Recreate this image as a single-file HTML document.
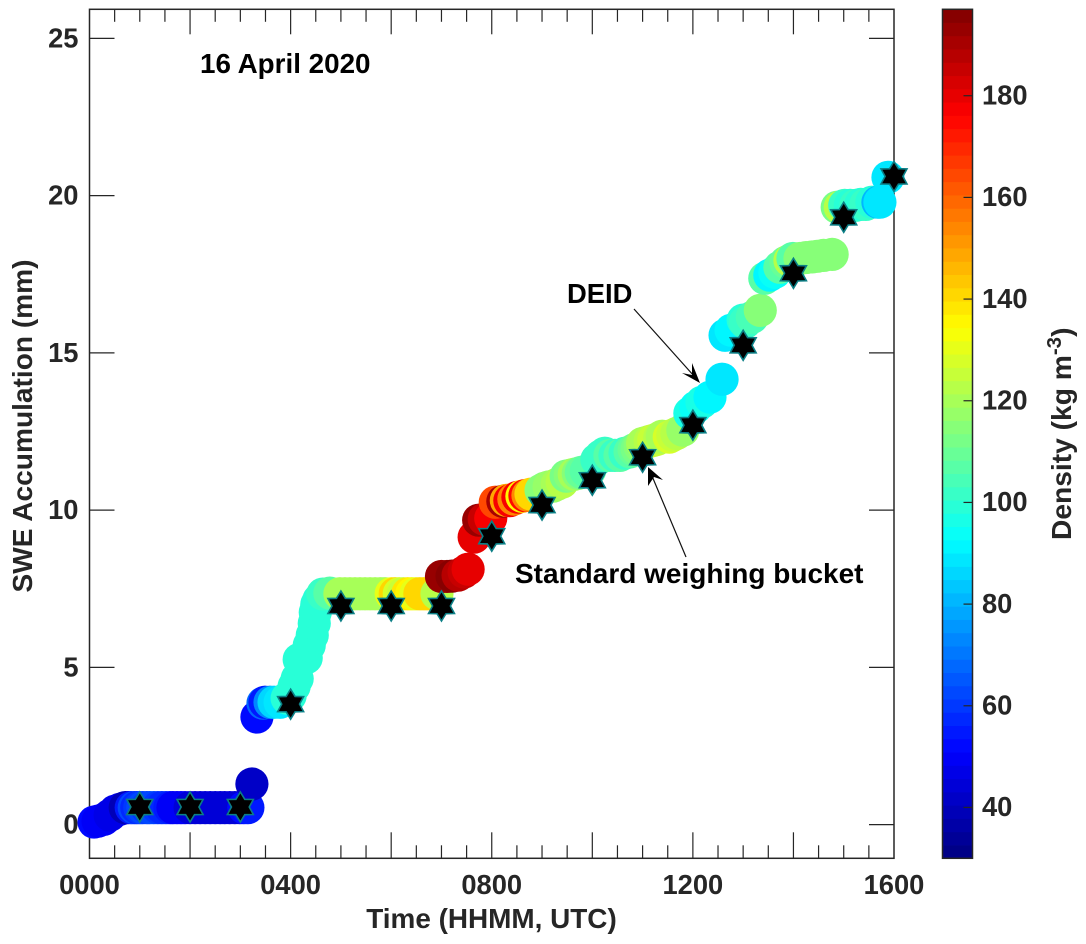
<!DOCTYPE html>
<html lang="en">
<head>
<meta charset="utf-8">
<title>SWE Accumulation, 16 April 2020</title>
<style>
html,body{margin:0;padding:0;background:#fff;width:1086px;height:944px;overflow:hidden}
svg{display:block}
text{font-family:"Liberation Sans",Arial,sans-serif;font-weight:bold}
</style>
</head>
<body>
<svg id="chart" xmlns="http://www.w3.org/2000/svg" width="1086" height="944" viewBox="0 0 1086 944">
  <g id="axes"></g>
  <g id="marks"></g>
  <g id="cbar"></g>
  <text x="200" y="73" font-size="27.8" fill="#000">16 April 2020</text>
  <text x="491.5" y="928" font-size="27.9" fill="#262626" text-anchor="middle">Time (HHMM, UTC)</text>
  <text transform="translate(32,426) rotate(-90)" font-size="28.1" fill="#262626" text-anchor="middle">SWE Accumulation (mm)</text>
  <text transform="translate(1071,540) rotate(-90)" font-size="28.2" fill="#262626">Density (kg m<tspan dy="-10" font-size="20.5">-3</tspan><tspan dy="10">)</tspan></text>
  <g>
    <text x="567" y="303" font-size="27.4" fill="#000">DEID</text>
    <line x1="634" y1="309" x2="694" y2="376" stroke="#111" stroke-width="1.2"/>
    <polygon points="700,383 682,373 692,375 692,363" fill="#000"/>
  </g>
  <g>
    <text x="515" y="583" font-size="28" fill="#000">Standard weighing bucket</text>
    <line x1="686" y1="557" x2="652" y2="476" stroke="#111" stroke-width="1.2"/>
    <polygon points="648,467 663,480 654,477 648,486" fill="#000"/>
  </g>
</svg>
<script>
// DEID series: time (hours UTC), SWE accumulation (mm), density (kg m-3)
var deidTime = [
  0.09,0.17,0.29,0.41,0.51,0.61,0.71,0.77,0.83,0.89,
  0.94,1.00,1.06,1.14,1.20,1.28,1.36,1.44,1.52,1.60,
  1.66,1.74,1.82,1.90,2.00,2.10,2.20,2.30,2.40,2.50,
  2.60,2.69,2.79,2.89,2.99,3.07,3.15,3.23,3.33,3.45,
  3.49,3.59,3.67,3.79,3.93,3.99,4.07,4.13,4.17,4.25,
  4.31,4.37,4.43,4.47,4.49,4.52,4.56,4.64,4.78,4.98,
  5.08,5.18,5.28,5.38,5.48,5.58,5.68,5.78,5.88,6.00,
  6.08,6.16,6.24,6.33,6.41,6.49,6.57,6.65,6.73,6.81,
  6.91,7.00,7.11,7.21,7.33,7.45,7.53,7.65,7.74,7.85,
  7.98,8.07,8.22,8.29,8.36,8.44,8.52,8.60,8.66,8.72,
  8.78,8.98,9.06,9.14,9.22,9.30,9.40,9.48,9.56,9.64,
  9.72,9.78,9.88,9.95,10.09,10.17,10.25,10.35,10.45,10.55,
  10.65,10.75,10.83,10.89,10.95,11.00,11.07,11.15,11.22,11.29,
  11.34,11.39,11.53,11.60,11.68,11.80,11.94,12.06,12.18,12.34,
  12.58,12.64,12.76,12.88,13.00,13.04,13.18,13.34,13.43,13.53,
  13.63,13.73,13.85,13.93,13.99,14.13,14.25,14.37,14.47,14.60,
  14.77,14.87,14.93,15.02,15.13,15.24,15.34,15.44,15.56,15.68,
  15.72,15.88];
var deidSwe = [
  0.08,0.11,0.17,0.30,0.43,0.49,0.54,0.54,0.54,0.54,
  0.54,0.54,0.54,0.54,0.54,0.54,0.54,0.54,0.54,0.54,
  0.54,0.54,0.54,0.54,0.54,0.54,0.54,0.54,0.54,0.54,
  0.54,0.54,0.54,0.54,0.54,0.54,0.54,1.29,3.42,3.86,
  3.89,3.89,3.89,3.89,4.02,4.10,4.40,4.64,5.25,5.30,
  5.30,5.70,6.02,6.40,6.75,7.00,7.14,7.33,7.36,7.34,
  7.34,7.34,7.34,7.34,7.34,7.34,7.34,7.34,7.34,7.34,
  7.34,7.34,7.34,7.34,7.34,7.34,7.34,7.34,7.34,7.34,
  7.34,7.89,7.89,7.90,7.93,8.03,8.12,9.14,9.68,9.71,
  9.74,10.25,10.28,10.31,10.30,10.35,10.41,10.44,10.46,10.47,
  10.51,10.63,10.70,10.74,10.76,10.82,10.89,11.08,11.11,11.14,
  11.17,11.20,11.24,11.27,11.60,11.72,11.81,11.74,11.74,11.74,
  11.81,11.85,11.92,11.95,12.03,12.12,12.15,12.19,12.22,12.25,
  12.30,12.35,12.32,12.38,12.44,12.54,13.08,13.27,13.43,13.59,
  14.16,15.56,15.72,15.80,16.04,15.97,16.13,16.35,17.37,17.47,
  17.56,17.72,17.88,17.94,18.00,18.00,18.03,18.05,18.07,18.10,
  18.13,19.63,19.63,19.69,19.69,19.69,19.72,19.72,19.79,19.79,
  19.79,20.58];
var deidDensity = [
  52,50,50,48,48,46,38,38,56,62,
  58,60,62,60,62,62,60,58,58,55,
  50,50,50,50,44,44,44,44,44,44,
  44,44,44,44,44,52,54,43,52,68,
  55,72,85,90,100,100,100,100,100,100,
  100,100,100,100,100,100,100,102,107,120,
  120,120,120,120,120,120,120,120,120,130,
  140,128,126,138,136,131,142,142,141,140,
  123,194,192,196,188,186,181,180,192,186,
  178,165,190,150,178,155,178,135,175,155,
  140,115,116,118,118,120,122,113,116,120,
  116,110,108,106,103,103,103,108,103,107,
  102,106,110,113,116,120,120,122,124,126,
  122,120,128,125,122,118,96,94,97,92,
  90,90,92,92,100,102,105,115,108,92,
  94,108,110,122,106,115,115,115,115,115,
  115,113,122,103,100,101,100,103,99,82,
  90,90];

// Standard weighing bucket series
var bucketTime = [1,2,3,4,5,6,7,8,9,10,11,12,13,14,15,16];
var bucketSwe = [0.56,0.56,0.56,3.83,6.95,6.95,6.95,9.17,10.16,10.95,11.68,12.70,15.24,17.53,19.31,20.61];

// Tick labels
var yTickValues = [0,5,10,15,20,25];
var xMinorTickHours = [0.5,1,1.5,2.5,3,3.5,4.5,5,5.5,6.5,7,7.5,8.5,9,9.5,10.5,11,11.5,12.5,13,13.5,14.5,15,15.5];
var xMajorTickHours = [2,4,6,8,10,12,14];
var xLabelHours = [0,4,8,12,16];
var xLabelText = ["0000","0400","0800","1200","1600"];
var cbarTickValues = [40,60,80,100,120,140,160,180];

var NS = "http://www.w3.org/2000/svg";
var plotL = 89.5, plotR = 894, plotT = 9.3, plotB = 858.3;
var cbL = 942.5, cbR = 972.5, cbMin = 30, cbMax = 197;
var inkColor = "#262626";

function xScale(h){ return plotL + (h / 16) * (plotR - plotL); }
function yScale(v){ return 824.6 - v * 31.45; }
function cbScale(d){ return plotB - (d - cbMin) / (cbMax - cbMin) * (plotB - plotT); }

function jet(t){
  function c(v){ return Math.round(255 * Math.max(0, Math.min(1, v))); }
  var r = Math.min(4 * t - 1.5, -4 * t + 4.5);
  var g = Math.min(4 * t - 0.5, -4 * t + 3.5);
  var b = Math.min(4 * t + 0.5, -4 * t + 2.5);
  return "rgb(" + c(r) + "," + c(g) + "," + c(b) + ")";
}
function densityColor(d){
  var k = Math.floor((d - cbMin) / (cbMax - cbMin) * 64);
  k = Math.max(0, Math.min(63, k));
  return jet((k + 0.5) / 64);
}
function node(tag, parent, attrs){
  var el = document.createElementNS(NS, tag);
  for (var a in attrs) el.setAttribute(a, attrs[a]);
  parent.appendChild(el);
  return el;
}

var marks = document.getElementById("marks");
var axes = document.getElementById("axes");
var cbar = document.getElementById("cbar");

// DEID circles
deidTime.forEach(function(h, i){
  var el = node("circle", marks, {cx: xScale(h), cy: yScale(deidSwe[i]), r: 16.6, fill: densityColor(deidDensity[i])});
  
  
});

// Bucket stars (hexagrams)
bucketTime.forEach(function(h, i){
  var cx = xScale(h), cy = yScale(bucketSwe[i]), pts = [];
  for (var k = 0; k < 12; k++){
    var rad = k % 2 === 0 ? 15 : 8.9;
    var ang = -Math.PI / 2 + k * Math.PI / 6;
    pts.push((cx + rad * Math.cos(ang)).toFixed(2) + "," + (cy + rad * Math.sin(ang)).toFixed(2));
  }
  var el = node("polygon", marks, {points: pts.join(" "), fill: "#000", stroke: "#0b7f86", "stroke-width": 1.6, "stroke-linejoin": "miter"});
  
  
});

// Axes frame
var frame = node("rect", axes, {x: plotL, y: plotT, width: plotR - plotL, height: plotB - plotT, fill: "none", stroke: inkColor, "stroke-width": 1.5});



function tickLine(x1, y1, x2, y2){
  var el = node("line", axes, {x1: x1, y1: y1, x2: x2, y2: y2, stroke: inkColor, "stroke-width": 1.2});
  
  
}
xMinorTickHours.forEach(function(h){
  var x = xScale(h);
  tickLine(x, plotB, x, plotB - 13);
  tickLine(x, plotT, x, plotT + 12.5);
});
xMajorTickHours.forEach(function(h){
  var x = xScale(h);
  tickLine(x, plotB, x, plotB - 26);
  tickLine(x, plotT, x, plotT + 25);
});
yTickValues.forEach(function(v){
  var y = yScale(v);
  tickLine(plotL, y, plotL + 25, y);
  tickLine(plotR, y, plotR - 25, y);
  var t = node("text", axes, {x: 78.5, y: y + 8.9, "font-size": 27.3, fill: inkColor, "text-anchor": "end"});
  t.textContent = String(v);
  
  
});
xLabelHours.forEach(function(h, i){
  var t = node("text", axes, {x: xScale(h), y: 894, "font-size": 27.3, fill: inkColor, "text-anchor": "middle"});
  t.textContent = xLabelText[i];
  
  
});

// Colorbar
var bandH = (plotB - plotT) / 64;
for (var k = 0; k < 64; k++){
  var band = node("rect", cbar, {x: cbL, y: plotB - (k + 1) * bandH, width: cbR - cbL, height: bandH + 0.4, fill: jet((k + 0.5) / 64)});
  
  
}
var cbFrame = node("rect", cbar, {x: cbL, y: plotT, width: cbR - cbL, height: plotB - plotT, fill: "none", stroke: inkColor, "stroke-width": 1.5});


cbarTickValues.forEach(function(d){
  var y = cbScale(d);
  var l = node("line", cbar, {x1: cbR, y1: y, x2: cbR - 9, y2: y, stroke: inkColor, "stroke-width": 1.2});
  
  
  var t = node("text", cbar, {x: 982, y: y + 8.7, "font-size": 27.3, fill: inkColor});
  t.textContent = String(d);
  
  
});
</script>
</body>
</html>
